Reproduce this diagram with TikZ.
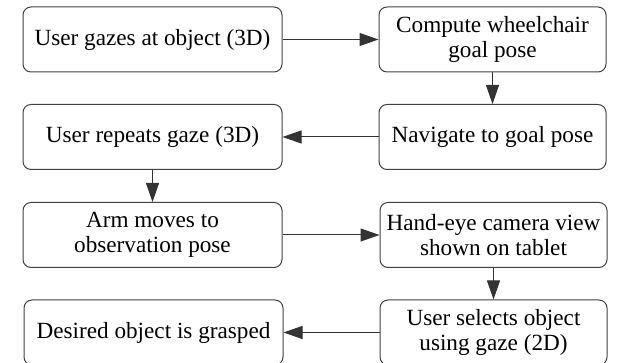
\documentclass[tikz,border=0pt]{standalone}
\usepackage{fontspec}
\setmainfont{Liberation Serif}
\usetikzlibrary{arrows.meta}
\begin{document}
\begin{tikzpicture}[x=1pt,y=1pt,
  stepbox/.style={draw=black!75, line width=0.5pt, rounded corners=4pt,
    minimum height=32.5pt, align=center, inner sep=0pt,
    font=\fontsize{11.6}{12.6}\selectfont, text=black},
  leftbox/.style={stepbox, minimum width=129.5pt},
  rightbox/.style={stepbox, minimum width=113.5pt},
  flow/.style={draw=black!80, line width=0.5pt, -{Triangle[length=9.5pt,width=6.5pt]}}]
\useasboundingbox (0,0) rectangle (310,181.5);
\clip (0,0) rectangle (310,181.5);
% left column
\node[leftbox]  (gaze)    at (76.25,161.75) {User gazes at object (3D)};
\node[leftbox]  (repeat)  at (76.25,113)    {User repeats gaze (3D)};
\node[leftbox]  (arm)     at (76.25,64)     {Arm moves to\\observation pose};
\node[leftbox]  (grasp)   at (76.75,15.25)  {Desired object is grasped};
% right column
\node[rightbox] (goal)    at (246.25,161.75) {Compute wheelchair\\goal pose};
\node[rightbox] (nav)     at (246.25,113)    {Navigate to goal pose};
\node[rightbox] (camera)  at (246.75,64)     {Hand-eye camera view\\shown on tablet};
\node[rightbox] (select)  at (246.75,15.25)  {User selects object\\using gaze (2D)};
% connectors
\draw[flow] (gaze) -- (goal);
\draw[flow] (goal) -- (nav);
\draw[flow] (nav) -- (repeat);
\draw[flow] (repeat) -- (arm);
\draw[flow] (arm) -- (camera);
\draw[flow] (camera) -- (select);
\draw[flow] (select) -- (grasp);
\end{tikzpicture}
\end{document}
